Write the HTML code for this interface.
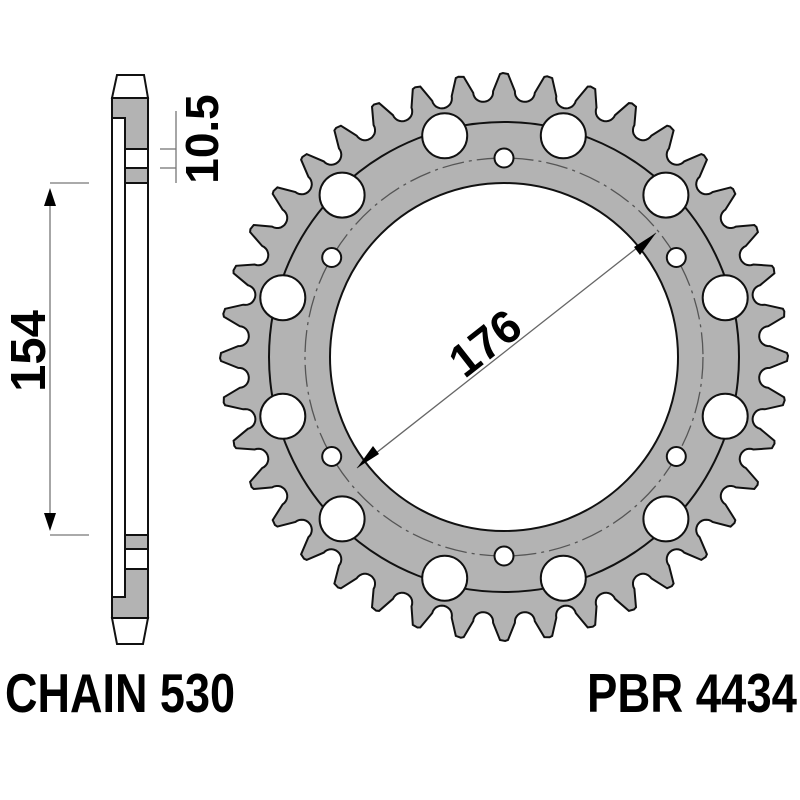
<!DOCTYPE html>
<html><head><meta charset="utf-8"><style>html,body{margin:0;padding:0;background:#fff}svg{display:block}</style></head>
<body>
<svg id="s" width="800" height="800" viewBox="0 0 800 800" xmlns="http://www.w3.org/2000/svg">
<rect width="800" height="800" fill="#fff"/>
<path id="gear" fill="#b3b3b3" stroke="#111" stroke-width="2" fill-rule="evenodd" d=""/>
<g id="holes" fill="#fff" stroke="#111" stroke-width="2"></g>
<circle cx="504" cy="357" r="235" fill="none" stroke="#111" stroke-width="2"/>
<circle cx="504" cy="357" r="199" fill="none" stroke="#555" stroke-width="1.3" stroke-dasharray="22 5 3 5"/>
<circle cx="504" cy="357" r="174" fill="#fff" stroke="#111" stroke-width="2"/>
<g id="holes2" fill="#b3b3b3" stroke="none"></g>
<g id="holes3" fill="#fff" stroke="#111" stroke-width="2"></g>

<!-- 176 dimension -->
<line x1="357" y1="468" x2="656" y2="233" stroke="#666" stroke-width="1.3"/>
<polygon points="656,233 640,255 634,247" fill="#000"/>
<polygon points="357,468 373,446 379,454" fill="#000"/>
<text x="0" y="0" transform="translate(485,343) rotate(-38)" font-family="Liberation Sans, sans-serif" font-weight="bold" font-size="46" text-anchor="middle" dy="16">176</text>

<!-- side view -->
<g stroke="#111" stroke-width="2">
<polygon points="117,75 144,75 148,98 112,98" fill="#fff"/>
<rect x="112" y="98" width="36" height="520" fill="#fff"/>
<polygon points="112,98 148,98 148,149 125,149 125,118 112,118" fill="#b3b3b3"/>
<rect x="125" y="168" width="23" height="15" fill="#b3b3b3"/>
<line x1="125" y1="118" x2="125" y2="597"/>
<line x1="125" y1="149" x2="148" y2="149"/>
<rect x="125" y="535" width="23" height="14" fill="#b3b3b3"/>
<polygon points="112,597 125,597 125,569 148,569 148,618 112,618" fill="#b3b3b3"/>
<polygon points="112,618 148,618 143,644 117,644" fill="#fff"/>
</g>
<!-- 10.5 dimension -->
<g stroke="#777" stroke-width="1.3">
<line x1="160" y1="149" x2="176" y2="149"/>
<line x1="160" y1="168" x2="176" y2="168"/>
<line x1="176" y1="111" x2="176" y2="183"/>
</g>
<text transform="translate(201,139) rotate(-90)" font-family="Liberation Sans, sans-serif" font-weight="bold" font-size="46" text-anchor="middle" dy="17">10.5</text>
<!-- 154 dimension -->
<g stroke="#777" stroke-width="1.3">
<line x1="50" y1="183" x2="89" y2="183"/>
<line x1="50" y1="535" x2="89" y2="535"/>
<line x1="50" y1="195" x2="50" y2="523"/>
</g>
<polygon points="50,188 44,206 56,206" fill="#000"/>
<polygon points="50,531 44,513 56,513" fill="#000"/>
<text transform="translate(27,351) rotate(-90)" font-family="Liberation Sans, sans-serif" font-weight="bold" font-size="49" text-anchor="middle" dy="18">154</text>

<text x="5" y="712" font-family="Liberation Sans Narrow, Liberation Sans, sans-serif" font-weight="bold" font-size="55" textLength="230" lengthAdjust="spacingAndGlyphs">CHAIN 530</text>
<text x="587" y="712" font-family="Liberation Sans Narrow, Liberation Sans, sans-serif" font-weight="bold" font-size="55" textLength="210" lengthAdjust="spacingAndGlyphs">PBR 4434</text>
</svg>
<script>
(function(){
var cx=504,cy=357,N=40,Rt=284,Rc=266,rr=10,tipHalf=4;
function P(r,a){return [cx+r*Math.sin(a),cy-r*Math.cos(a)];}
var pts=[];
for(var i=0;i<N;i++){
  var a=i*2*Math.PI/N, step=2*Math.PI/N, g=a+step/2;
  pts.push(P(Rt,a-tipHalf/Rt*0.3));
  pts.push(P(Rt-1,a+tipHalf/Rt));
  // flank to seat
  var steps=14;
  for(var k=0;k<=steps;k++){
    var t=Math.PI/2+ Math.PI*k/steps; // from left-side (+x tangent) around bottom
    // local: x tangential offset, y radial
    var lx=-rr*Math.cos(Math.PI*k/steps), ly=-rr*Math.sin(Math.PI*k/steps);
    var r=Rc+ly;
    pts.push(P(r,g+lx/r));
  }
  pts.push(P(Rt-1,a+step-tipHalf/Rt));
}
var d="M"+pts.map(function(p){return p[0].toFixed(1)+","+p[1].toFixed(1)}).join(" L")+" Z";
document.getElementById('gear').setAttribute('d',d);
var ns="http://www.w3.org/2000/svg";
function circ(parent,x,y,r){var c=document.createElementNS(ns,'circle');c.setAttribute('cx',x);c.setAttribute('cy',y);c.setAttribute('r',r);document.getElementById(parent).appendChild(c);}
for(var j=0;j<12;j++){var an=(15+30*j)*Math.PI/180;var p=P(229,an);circ('holes3',p[0].toFixed(1),p[1].toFixed(1),22.5);}
for(var j=0;j<6;j++){var an=(60*j)*Math.PI/180;var p=P(199,an);circ('holes3',p[0].toFixed(1),p[1].toFixed(1),9.5);}
})();
</script>
</body></html>
